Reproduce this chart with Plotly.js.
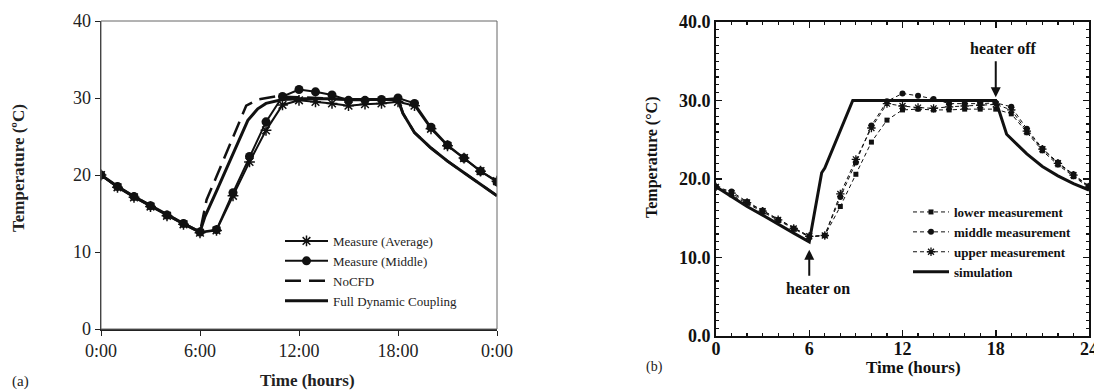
<!DOCTYPE html>
<html>
<head>
<meta charset="utf-8">
<script src="https://cdn.plot.ly/plotly-3.0.1.min.js"></script>
<style>html,body{margin:0;padding:0;background:#fff;}#chart{width:1094px;height:391px;}</style>
</head>
<body>
<div id="chart"></div>
<script>
// ---------- Panel (a) data ----------
var hoursA = [0,1,2,3,4,5,6,7,8,9,10,11,12,13,14,15,16,17,18,19,20,21,22,23,24];
var measureAverage = [20.0,18.4,17.1,15.9,14.7,13.6,12.5,12.8,17.3,21.7,25.8,29.1,29.7,29.5,29.3,29.0,29.2,29.3,29.5,29.0,26.0,23.8,22.2,20.5,19.2];
var measureMiddle  = [20.0,18.5,17.2,16.0,14.8,13.7,12.6,12.9,17.7,22.4,26.9,30.2,31.1,30.8,30.4,29.7,29.7,29.8,30.0,29.3,26.2,23.9,22.2,20.5,19.1];
var noCfdTime = [0,1,2,3,4,5,6,6.4,7,8,8.8,9.5,10.6,12,13,14,15,16,17,18,18.3,19,20,21,22,23,24];
var noCfdTemp = [20.0,18.5,17.2,16.0,14.8,13.7,12.6,16.8,19.8,24.8,29.0,29.8,30.2,30.1,30.0,29.9,29.8,29.8,29.8,29.8,28.0,25.5,23.5,21.8,20.3,18.8,17.3];
var fullTime = [0,1,2,3,4,5,6,6.3,7,8,8.9,9.5,10,11,12,13,14,15,16,17,18,18.3,19,20,21,22,23,24];
var fullTemp = [20.0,18.5,17.2,16.0,14.8,13.7,12.6,14.6,17.9,22.7,27.1,28.6,29.3,29.8,29.9,29.9,29.9,29.8,29.8,29.8,29.8,28.0,25.5,23.5,21.8,20.3,18.8,17.3];
var tickValsA = [0,6,12,18,24];
var tickTextA = ['0:00','6:00','12:00','18:00','0:00'];

// ---------- Panel (b) data ----------
var hoursB = [0,1,2,3,4,5,6,7,8,9,10,11,12,13,14,15,16,17,18,19,20,21,22,23,24];
var lowerMeas  = [19.0,18.0,16.9,15.8,14.7,13.6,12.6,12.8,16.5,20.6,24.7,27.5,28.8,28.9,28.8,28.8,28.9,28.9,28.9,28.3,25.9,23.6,21.8,20.3,18.9];
var middleMeas = [19.0,18.4,17.1,16.0,14.8,13.7,12.7,12.8,17.7,22.1,26.8,29.9,30.9,30.6,30.2,29.6,29.6,29.6,29.7,29.2,26.4,23.9,22.1,20.6,19.1];
var upperMeas  = [19.0,18.2,17.0,15.9,14.8,13.7,12.7,12.8,18.1,22.5,26.5,29.6,29.3,29.1,29.0,29.2,29.3,29.4,29.5,28.8,26.1,23.8,22.0,20.5,19.0];
var simTime = [0,1,2,3,4,5,6,6.8,7,8,8.8,12,18,18.7,19,20,21,22,23,24];
var simTemp = [19.0,17.7,16.5,15.4,14.2,13.1,12.0,20.8,21.4,26.2,30.0,30.0,30.0,25.7,25.1,23.2,21.6,20.4,19.4,18.6];

var K = '#111';
var serif = 'Liberation Serif, Times New Roman, serif';

var traces = [
  {x: hoursA, y: measureAverage, name: 'Measure (Average)', xaxis:'x', yaxis:'y', mode:'lines+markers',
   line:{color:K, width:2}, marker:{symbol:'asterisk-open', size:9, color:K, line:{color:K, width:1.5}}, legend:'legend'},
  {x: hoursA, y: measureMiddle, name: 'Measure (Middle)', xaxis:'x', yaxis:'y', mode:'lines+markers',
   line:{color:K, width:2}, marker:{symbol:'circle', size:9, color:K}, legend:'legend'},
  {x: noCfdTime, y: noCfdTemp, name: 'NoCFD', xaxis:'x', yaxis:'y', mode:'lines',
   line:{color:K, width:2.5, dash:'16px,8px'}, legend:'legend'},
  {x: fullTime, y: fullTemp, name: 'Full Dynamic Coupling', xaxis:'x', yaxis:'y', mode:'lines',
   line:{color:K, width:3}, legend:'legend'},

  {x: hoursB, y: lowerMeas, name: 'lower measurement', xaxis:'x2', yaxis:'y2', mode:'lines+markers',
   line:{color:K, width:1, dash:'4px,3px'}, marker:{symbol:'square', size:5, color:K}, legend:'legend2'},
  {x: hoursB, y: middleMeas, name: 'middle measurement', xaxis:'x2', yaxis:'y2', mode:'lines+markers',
   line:{color:K, width:1, dash:'4px,3px'}, marker:{symbol:'circle', size:6, color:K}, legend:'legend2'},
  {x: hoursB, y: upperMeas, name: 'upper measurement', xaxis:'x2', yaxis:'y2', mode:'lines+markers',
   line:{color:K, width:1, dash:'4px,3px'}, marker:{symbol:'asterisk-open', size:7, color:K, line:{color:K, width:1.3}}, legend:'legend2'},
  {x: simTime, y: simTemp, name: 'simulation', xaxis:'x2', yaxis:'y2', mode:'lines',
   line:{color:K, width:3}, legend:'legend2'}
];

function ann(text, x, y, size, weight, color, angle) {
  return {text:text, xref:'paper', yref:'paper', x:x/1094, y:(391-y)/391, xanchor:'center', yanchor:'middle',
    textangle: angle || 0, showarrow:false, font:{family:serif, size:size, color:color, weight:weight}};
}

var layout = {
  width: 1094, height: 391,
  margin: {l:0, r:0, t:0, b:0},
  paper_bgcolor: '#fff', plot_bgcolor: '#fff',
  showlegend: true,
  xaxis: {domain:[101/1094, 497/1094], range:[0,24], tickvals:tickValsA, ticktext:tickTextA,
    ticks:'outside', ticklen:5, tickcolor:'#222', showline:true, linecolor:'#222', linewidth:1.5,
    showgrid:false, zeroline:false, tickfont:{family:serif, size:18, color:'#222'}, fixedrange:true},
  yaxis: {domain:[62/391, 370/391], range:[0,40], dtick:10, anchor:'x',
    ticks:'outside', ticklen:5, tickcolor:'#222', showline:true, linecolor:'#222', linewidth:1.5,
    showgrid:false, zeroline:false, tickfont:{family:serif, size:18, color:'#222'}, fixedrange:true},
  xaxis2: {domain:[716/1094, 1089/1094], range:[0,24], dtick:6, anchor:'y2',
    ticks:'inside', ticklen:6, tickwidth:1.5, tickcolor:K, mirror:'allticks',
    minor:{dtick:1, ticks:'inside', ticklen:3, tickwidth:1.2, tickcolor:K},
    showline:true, linecolor:K, linewidth:2, showgrid:false, zeroline:false,
    ticklabeloverflow:'allow', ticklabelstandoff:-5,
    tickfont:{family:serif, size:18, color:K, weight:'bold'}, fixedrange:true},
  yaxis2: {domain:[55/391, 369/391], range:[0,40], dtick:10, tickformat:'.1f', anchor:'x2',
    ticks:'inside', ticklen:6, tickwidth:1.5, tickcolor:K, mirror:'allticks',
    minor:{dtick:1, ticks:'inside', ticklen:3, tickwidth:1.2, tickcolor:K},
    showline:true, linecolor:K, linewidth:2, showgrid:false, zeroline:false,
    tickfont:{family:serif, size:18, color:K, weight:'bold'}, fixedrange:true},
  legend: {x:280/1094, y:(391-226)/391, xanchor:'left', yanchor:'top', bgcolor:'rgba(0,0,0,0)',
    font:{family:serif, size:13, color:'#222'}, itemwidth:43, tracegroupgap:0},
  legend2: {x:908/1094, y:(391-197)/391, xanchor:'left', yanchor:'top', bgcolor:'rgba(0,0,0,0)',
    font:{family:serif, size:13, color:K, weight:'bold'}, itemwidth:36, tracegroupgap:0},
  shapes: [
    {type:'rect', xref:'x domain', yref:'y domain', x0:0, x1:1, y0:0, y1:1, line:{color:'#666', width:1}}
  ],
  annotations: [
    ann('Temperature (ºC)', 19, 168, 17, 'bold', '#222', -90),
    ann('Time (hours)', 307, 380, 17, 'bold', '#222'),
    ann('(a)', 20, 381, 15, 'normal', '#222'),
    ann('Temperature (°C)', 652, 158, 16, 'bold', K, -90),
    ann('Time (hours)', 913, 367, 17, 'bold', K),
    ann('(b)', 654, 367, 14, 'normal', '#222'),
    {text:'heater off', xref:'x2', yref:'y2', x:18.47, y:36.6, xanchor:'center', yanchor:'middle', showarrow:false,
     font:{family:serif, size:16, color:K, weight:'bold'}},
    {text:'heater on', xref:'x2', yref:'y2', x:6.56, y:6.1, xanchor:'center', yanchor:'middle', showarrow:false,
     font:{family:serif, size:16, color:K, weight:'bold'}},
    {text:'', xref:'x2', yref:'y2', x:18, y:30.4, axref:'x2', ayref:'y2', ax:18, ay:35.2,
     showarrow:true, arrowhead:2, arrowsize:1, arrowwidth:2, arrowcolor:K},
    {text:'', xref:'x2', yref:'y2', x:6, y:11.0, axref:'x2', ayref:'y2', ax:6, ay:7.5,
     showarrow:true, arrowhead:2, arrowsize:1, arrowwidth:2, arrowcolor:K}
  ]
};

Plotly.newPlot('chart', traces, layout, {staticPlot:true, displayModeBar:false});
</script>
</body>
</html>
